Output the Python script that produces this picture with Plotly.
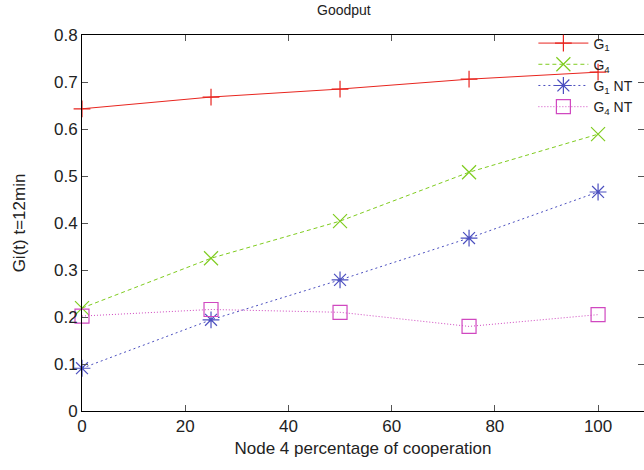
import plotly.graph_objects as go

x_pct = [0, 25, 50, 75, 100]
g1 = [0.643, 0.668, 0.685, 0.706, 0.721]
g4 = [0.219, 0.325, 0.404, 0.508, 0.589]
g1_nt = [0.091, 0.194, 0.279, 0.368, 0.466]
g4_nt = [0.202, 0.216, 0.210, 0.180, 0.205]

names = ["G<sub>1</sub>", "G<sub>4</sub>", "G<sub>1</sub> NT", "G<sub>4</sub> NT"]
series = [g1, g4, g1_nt, g4_nt]
colors = ["#e8251f", "#7fcc1f", "#4b4fbf", "#d048c0"]
dashes = ["solid", "4px,3px", "2px,3px", "1px,2px"]
symbols = ["cross-thin-open", "x-thin-open", "asterisk-open", "square-open"]
sizes = [12, 14, 14, 14]

fig = go.Figure()
for n, s, c, d, sym, sz in zip(names, series, colors, dashes, symbols, sizes):
    fig.add_trace(go.Scatter(
        x=x_pct, y=s, name=n, mode="lines+markers",
        line=dict(color=c, width=1, dash=d),
        marker=dict(symbol=sym, size=sz, color=c, line=dict(color=c, width=1.2)),
        cliponaxis=False,
    ))

fig.update_layout(
    width=644, height=470,
    margin=dict(l=82, r=0, t=35, b=59, autoexpand=False),
    paper_bgcolor="white", plot_bgcolor="white",
    font=dict(family="Liberation Sans, Arial, sans-serif", size=17, color="#222"),
    title=dict(text="Goodput", x=0.534, xanchor="center", y=0.99, yanchor="top",
               font=dict(size=14, color="#222")),
    showlegend=True,
    legend=dict(x=0.99, xanchor="right", y=1.02, yanchor="top",
                bgcolor="rgba(0,0,0,0)", font=dict(size=14),
                tracegroupgap=0, itemwidth=50),
    xaxis=dict(range=[0, 108.9], tickvals=[0, 20, 40, 60, 80, 100],
               showgrid=False, zeroline=False, showline=True, linecolor="black",
               linewidth=1, mirror="ticks", ticks="inside", ticklen=6,
               tickcolor="#555", tickfont=dict(size=17),
               title=dict(text="Node 4 percentage of cooperation",
                          font=dict(size=17), standoff=6)),
    yaxis=dict(range=[0, 0.8], tickvals=[0, 0.1, 0.2, 0.3, 0.4, 0.5, 0.6, 0.7, 0.8],
               ticktext=["0", "0.1", "0.2", "0.3", "0.4", "0.5", "0.6", "0.7", "0.8"],
               showgrid=False, zeroline=False, showline=True, linecolor="black",
               linewidth=1, mirror="ticks", ticks="inside", ticklen=6,
               tickcolor="#555", tickfont=dict(size=17),
               title=dict(text="Gi(t) t=12min", font=dict(size=17), standoff=24)),
)

fig.write_html("out.html", config={"displayModeBar": False},
               post_script="document.body.style.margin='0';")
